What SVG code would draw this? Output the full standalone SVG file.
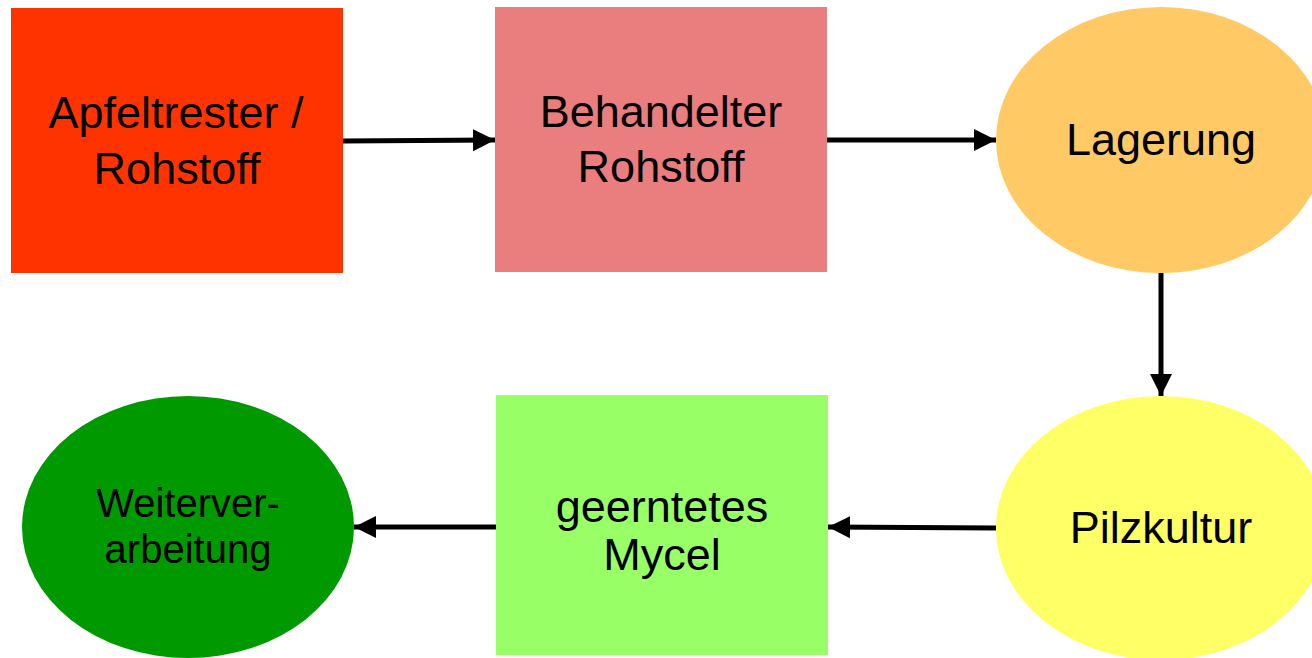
<svg xmlns="http://www.w3.org/2000/svg" width="1312" height="658" viewBox="0 0 1312 658">
<style>
text{font-family:"Liberation Sans",Arial,sans-serif;font-size:45px;fill:#000;text-anchor:middle}
.sm{font-size:40px}
.c{stroke:#000;stroke-width:5;fill:none;marker-end:url(#ah)}
</style>
<defs>
<marker id="ah" markerUnits="userSpaceOnUse" markerWidth="24" markerHeight="24" refX="22" refY="11" orient="auto" viewBox="0 0 24 22">
<path d="M0,0 L22,11 L0,22 Z" fill="#000"/>
</marker>
</defs>
<rect width="1312" height="658" fill="#fff"/>
<g id="n1"><rect x="11" y="8" width="332" height="265" fill="#ff3300"/><text x="176" y="128">Apfeltrester /</text><text x="177" y="184">Rohstoff</text></g>
<g id="n2"><rect x="495" y="7" width="332" height="265" fill="#ea7d7d"/><text x="661" y="127">Behandelter</text><text x="661" y="182">Rohstoff</text></g>
<g id="n3"><ellipse cx="1161" cy="140" rx="165" ry="133" fill="#ffca66"/><text x="1161" y="155">Lagerung</text></g>
<g id="n4"><ellipse cx="1161" cy="528" rx="165" ry="132" fill="#ffff66"/><text x="1161" y="543">Pilzkultur</text></g>
<g id="n5"><rect x="496" y="395" width="332" height="260" fill="#99ff66"/><text x="662" y="522">geerntetes</text><text x="662" y="570">Mycel</text></g>
<g id="n6"><ellipse cx="188" cy="527" rx="166" ry="131" fill="#009900"/><text class="sm" x="188" y="517">Weiterver-</text><text class="sm" x="188" y="563">arbeitung</text></g>
<g id="connectors">
<path class="c" d="M343,141 L495,140"/>
<path class="c" d="M827,140 L996,140"/>
<path class="c" d="M1161,273 L1161,396"/>
<path class="c" d="M996,528 L828,527"/>
<path class="c" d="M496,527 L354,527"/>
</g>
</svg>
